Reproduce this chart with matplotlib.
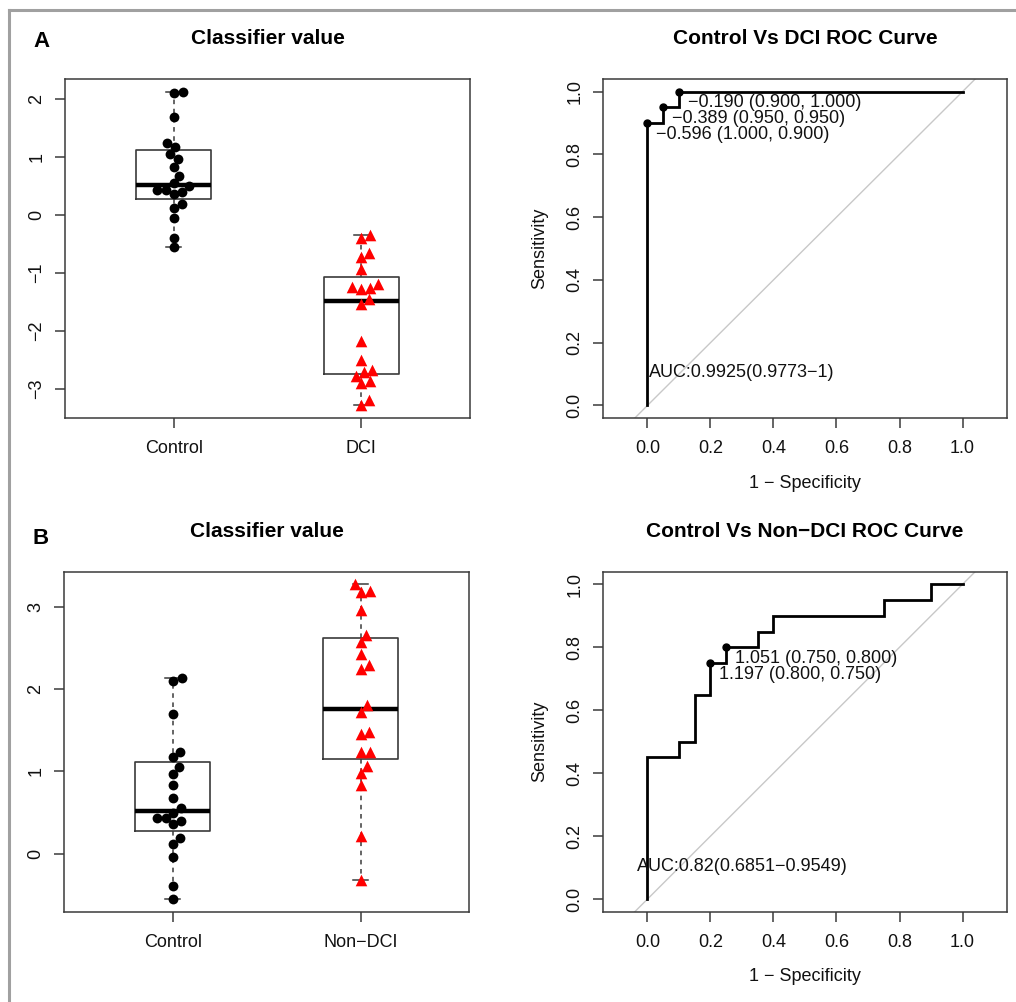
import numpy as np
import matplotlib.pyplot as plt
from matplotlib.lines import Line2D

plt.rcParams['font.family'] = ['Liberation Sans', 'DejaVu Sans']

# classifier values
control = [2.13, 2.10, 1.70, 1.24, 1.18, 1.05, 0.97, 0.83, 0.68, 0.55,
           0.50, 0.44, 0.43, 0.40, 0.36, 0.19, 0.12, -0.04, -0.39, -0.55]
dci = [-0.345, -0.385, -0.65, -0.72, -0.93, -1.19, -1.24, -1.26, -1.27, -1.44,
       -1.53, -2.16, -2.50, -2.66, -2.71, -2.78, -2.86, -2.90, -3.19, -3.28]
non_dci = [3.27, 3.19, 3.18, 2.96, 2.66, 2.57, 2.43, 2.29, 2.24, 1.80,
           1.72, 1.48, 1.45, 1.24, 1.23, 1.06, 0.98, 0.84, 0.21, -0.32]

yticks_a = [-3, -2, -1, 0, 1, 2]
yticks_b = [0, 1, 2, 3]

# ROC curves (1 - specificity, sensitivity)
roc_a_fpr = [0, 0, 0.05, 0.05, 0.10, 0.10, 1.0]
roc_a_tpr = [0, 0.90, 0.90, 0.95, 0.95, 1.0, 1.0]
roc_b_fpr = [0, 0, 0.10, 0.10, 0.15, 0.15, 0.20, 0.20, 0.25, 0.25,
             0.35, 0.35, 0.40, 0.40, 0.75, 0.75, 0.90, 0.90, 1.0]
roc_b_tpr = [0, 0.45, 0.45, 0.50, 0.50, 0.65, 0.65, 0.75, 0.75, 0.80,
             0.80, 0.85, 0.85, 0.90, 0.90, 0.95, 0.95, 1.0, 1.0]

# printed thresholds: threshold, specificity, sensitivity
thr_a = [-0.190, -0.389, -0.596]
thr_a_spec = [0.900, 0.950, 1.000]
thr_a_sens = [1.000, 0.950, 0.900]
thr_b = [1.051, 1.197]
thr_b_spec = [0.750, 0.800]
thr_b_sens = [0.800, 0.750]

auc_a = "AUC:0.9925(0.9773\u22121)"
auc_b = "AUC:0.82(0.6851\u22120.9549)"

EDGE = '#3a3a3a'


def fivenum(v):
    s = np.sort(np.asarray(v, float))
    n = len(s)
    n4 = np.floor((n + 3) / 2) / 2
    d = np.array([1, n4, (n + 1) / 2, n + 1 - n4, n]) - 1
    return 0.5 * (s[np.floor(d).astype(int)] + s[np.ceil(d).astype(int)])


def swarm(ax, xpos, vals, diam):
    # simple beeswarm: place points ascending, nearest free spot to centre
    vals = np.asarray(vals, float)
    pts = ax.transData.transform(np.column_stack([np.full(len(vals), xpos), vals]))
    ys = pts[:, 1]
    x0 = pts[0, 0]
    offs = np.zeros(len(vals))
    placed = []
    for i in np.argsort(vals):
        y = ys[i]
        cands = [0.0]
        for xo, yo in placed:
            dy = abs(y - yo)
            if dy < diam:
                dx = np.sqrt(diam ** 2 - dy ** 2)
                cands += [xo + dx, xo - dx]
        cands.sort(key=lambda c: (abs(c), -c))
        for c in cands:
            if all((c - xo) ** 2 + (y - yo) ** 2 >= diam ** 2 - 1e-6 for xo, yo in placed):
                break
        offs[i] = c
        placed.append((c, y))
    back = ax.transData.inverted().transform(np.column_stack([x0 + offs, ys]))
    return back[:, 0]


def style_axes(ax):
    for sp in ax.spines.values():
        sp.set_color(EDGE)
        sp.set_linewidth(1.1)
    ax.tick_params(direction='out', length=7, width=1.1, color=EDGE,
                   labelsize=13, labelcolor='#111111')
    ax.tick_params(axis='x', pad=9)
    ax.tick_params(axis='y', pad=7)


def rotate_y(ax):
    for lab in ax.get_yticklabels():
        lab.set_rotation(90)
        lab.set_va('center')


def box_panel(ax, groups, names, yticks, title):
    allv = np.concatenate([np.asarray(g) for g in groups])
    lo, hi = allv.min(), allv.max()
    pad = 0.04 * (hi - lo)
    ax.set_ylim(lo - pad, hi + pad)
    ax.set_xlim(0.42, 2.58)
    stats = []
    for g in groups:
        f = fivenum(g)
        stats.append(dict(whislo=f[0], q1=f[1], med=f[2], q3=f[3], whishi=f[4], fliers=[]))
    ax.bxp(stats, positions=[1, 2], widths=0.4, capwidths=0.08, showfliers=False,
           boxprops=dict(color=EDGE, linewidth=1.2),
           whiskerprops=dict(color=EDGE, linewidth=1.1, linestyle=(0, (3, 3))),
           capprops=dict(color=EDGE, linewidth=1.1),
           medianprops=dict(color='black', linewidth=3.2))
    xs = swarm(ax, 1, groups[0], 9.0)
    ax.scatter(xs, groups[0], s=50, marker='o', color='black', zorder=3, linewidths=0)
    xs = swarm(ax, 2, groups[1], 9.0)
    ax.scatter(xs, groups[1], s=70, marker='^', color='#ff0000', zorder=3, linewidths=0)
    ax.set_xticks([1, 2])
    ax.set_xticklabels(names)
    ax.set_yticks(yticks)
    ax.set_yticklabels([str(t).replace('-', '\u2212') for t in yticks])
    style_axes(ax)
    rotate_y(ax)
    ax.set_title(title, fontsize=15, fontweight='bold', pad=25)


def roc_panel(ax, fpr, tpr, thr, spec, sens, auc, title):
    ax.set_xlim(-0.142, 1.142)
    ax.set_ylim(-0.04, 1.04)
    ax.axline((0, 0), (1, 1), color='#c8c8c8', linewidth=1.0, zorder=1)
    ax.plot(fpr, tpr, color='black', linewidth=2.0, zorder=2, solid_joinstyle='miter')
    fx = 1 - np.asarray(spec)
    ax.plot(fx, sens, 'o', color='black', markersize=5, zorder=3)
    for t, x, sp, se in zip(thr, fx, spec, sens):
        lab = f"{t:.3f} ({sp:.3f}, {se:.3f})".replace('-', '\u2212')
        ax.annotate(lab, (x, se), xytext=(6.5, -8), textcoords='offset points',
                    ha='left', va='center', fontsize=13, color='#111111')
    ax.text(0.3, 0.105, auc, ha='center', va='center', fontsize=13, color='#111111')
    ticks = [0, 0.2, 0.4, 0.6, 0.8, 1.0]
    ax.set_xticks(ticks)
    ax.set_xticklabels([f"{t:.1f}" for t in ticks])
    ax.set_yticks(ticks)
    ax.set_yticklabels([f"{t:.1f}" for t in ticks])
    style_axes(ax)
    rotate_y(ax)
    ax.set_xlabel("1 \u2212 Specificity", fontsize=13, va='center', color='#111111')
    ax.xaxis.set_label_coords(0.5, -65.0 / 339.0)
    ax.set_ylabel("Sensitivity", fontsize=13, va='center', ha='center', color='#111111')
    ax.yaxis.set_label_coords(-63.0 / 404.6, 0.5)
    ax.set_title(title, fontsize=15, fontweight='bold', pad=25)


fig = plt.figure(figsize=(10.16, 10.02), dpi=100)

ax1 = fig.add_axes([0.064, 0.5828, 0.3986, 0.3383])
ax2 = fig.add_axes([0.5932, 0.5828, 0.3982, 0.3383])
ax3 = fig.add_axes([0.063, 0.0901, 0.3990, 0.3393])
ax4 = fig.add_axes([0.5932, 0.0901, 0.3982, 0.3393])

box_panel(ax1, [control, dci], ["Control", "DCI"], yticks_a, "Classifier value")
roc_panel(ax2, roc_a_fpr, roc_a_tpr, thr_a, thr_a_spec, thr_a_sens, auc_a,
          "Control Vs DCI ROC Curve")
box_panel(ax3, [control, non_dci], ["Control", "Non\u2212DCI"], yticks_b, "Classifier value")
roc_panel(ax4, roc_b_fpr, roc_b_tpr, thr_b, thr_b_spec, thr_b_sens, auc_b,
          "Control Vs Non\u2212DCI ROC Curve")

# panel letters
fig.text(41 / 1016, 1 - 41.5 / 1002, "A", fontsize=16, fontweight='bold', ha='center', va='center')
fig.text(41 / 1016, 1 - 539 / 1002, "B", fontsize=16, fontweight='bold', ha='center', va='center')

# grey frame around the figure
fig.add_artist(Line2D([9 / 1016, 1.0], [1 - 10 / 1002, 1 - 10 / 1002],
                      transform=fig.transFigure, color='#a0a0a0', linewidth=2.2))
fig.add_artist(Line2D([9 / 1016, 9 / 1016], [0, 1 - 10 / 1002],
                      transform=fig.transFigure, color='#a0a0a0', linewidth=2.2))

fig.savefig('out.png', dpi=100)
